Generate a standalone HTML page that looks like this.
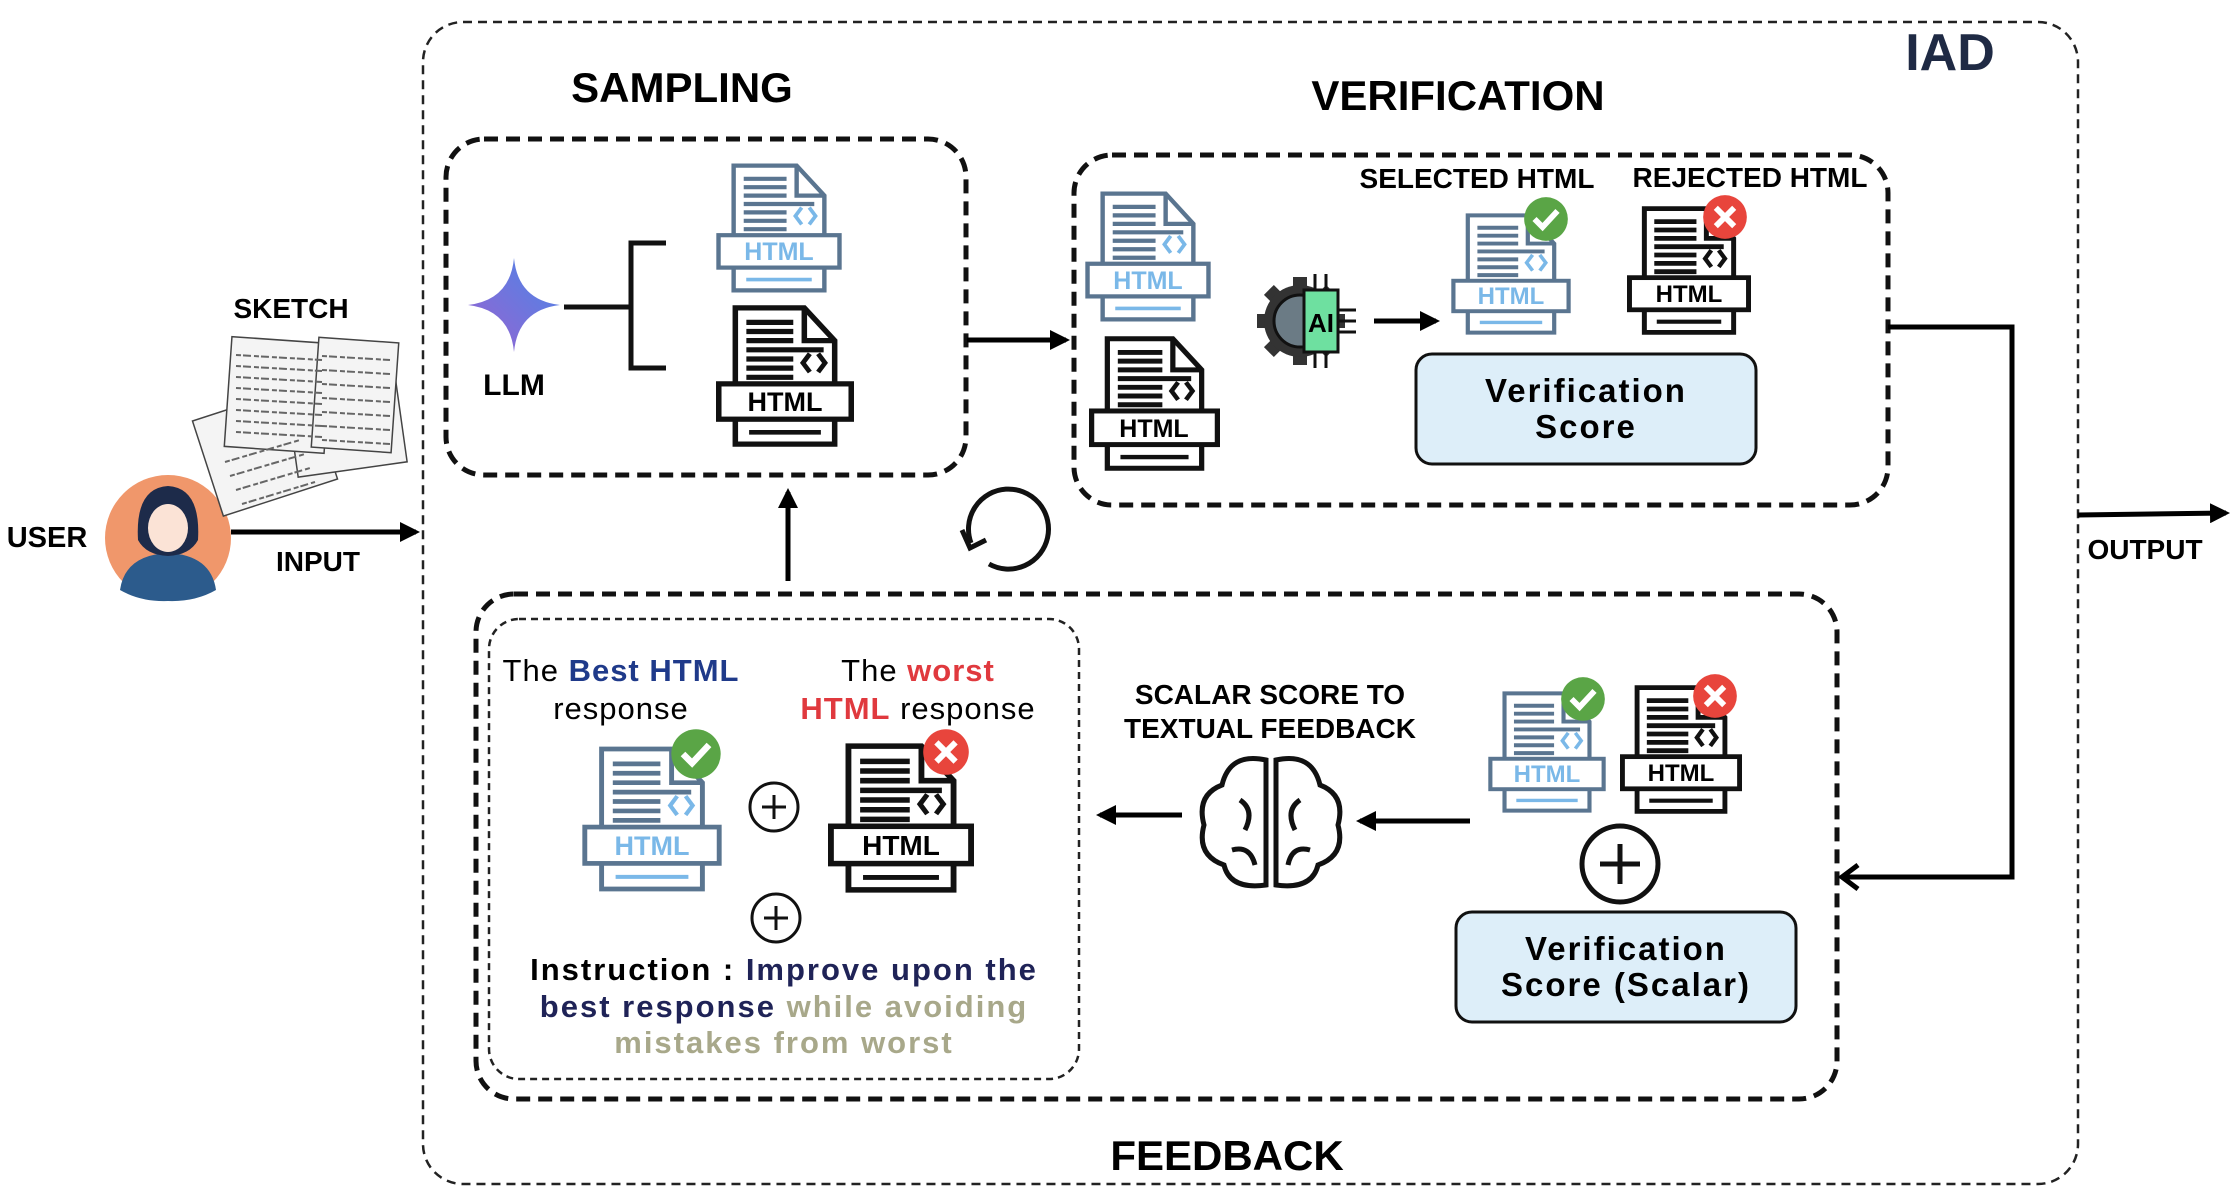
<!DOCTYPE html>
<html><head><meta charset="utf-8"><style>
html,body{margin:0;padding:0;background:#fff;}
svg{display:block;font-family:"Liberation Sans",sans-serif;}
</style></head><body>
<svg width="2238" height="1202" viewBox="0 0 2238 1202" xmlns="http://www.w3.org/2000/svg">
<defs>
<symbol id="docB" viewBox="0 0 100 110" preserveAspectRatio="none">
 <path d="M14 3H64L86 28V107H14Z" fill="#fff" stroke="#5a7590" stroke-width="3.5"/>
 <path d="M64 3V28H86" fill="none" stroke="#5a7590" stroke-width="3.5"/>
 <g stroke="#5a7590" stroke-width="3.5"><line x1="22" y1="14" x2="56" y2="14"/><line x1="22" y1="21" x2="56" y2="21"/><line x1="22" y1="28" x2="56" y2="28"/><line x1="22" y1="35" x2="78" y2="35"/><line x1="22" y1="42" x2="56" y2="42"/><line x1="22" y1="49" x2="56" y2="49"/><line x1="22" y1="56" x2="56" y2="56"/></g>
 <path d="M68 38L63 45L68 52M74 38L79 45L74 52" fill="none" stroke="#7ab8e8" stroke-width="3"/>
 <rect x="2" y="61" width="96" height="27" fill="#fff" stroke="#5a7590" stroke-width="3.5"/>
 <line x1="24" y1="98" x2="76" y2="98" stroke="#7ab8e8" stroke-width="3"/>
</symbol>
<symbol id="docK" viewBox="0 0 100 110" preserveAspectRatio="none">
 <path d="M14 3H64L86 28V107H14Z" fill="#fff" stroke="#111" stroke-width="4"/>
 <path d="M64 3V28H86" fill="none" stroke="#111" stroke-width="4"/>
 <g stroke="#111" stroke-width="4"><line x1="22" y1="14" x2="56" y2="14"/><line x1="22" y1="21" x2="56" y2="21"/><line x1="22" y1="28" x2="56" y2="28"/><line x1="22" y1="35" x2="78" y2="35"/><line x1="22" y1="42" x2="56" y2="42"/><line x1="22" y1="49" x2="56" y2="49"/><line x1="22" y1="56" x2="56" y2="56"/></g>
 <path d="M68 38L63 45L68 52M74 38L79 45L74 52" fill="none" stroke="#111" stroke-width="3.5"/>
 <rect x="2" y="61" width="96" height="27" fill="#fff" stroke="#111" stroke-width="4"/>
 <line x1="24" y1="98" x2="76" y2="98" stroke="#111" stroke-width="3.5"/>
</symbol>
<symbol id="ok" viewBox="0 0 40 40"><circle cx="20" cy="20" r="19" fill="#5aa546"/><path d="M10 20L17 27L30 13" fill="none" stroke="#fff" stroke-width="5"/></symbol>
<symbol id="no" viewBox="0 0 40 40"><circle cx="20" cy="20" r="19" fill="#e8453c"/><path d="M12 12L28 28M28 12L12 28" fill="none" stroke="#fff" stroke-width="5"/></symbol>
<marker id="ar" viewBox="0 0 10 10" refX="8" refY="5" markerWidth="4" markerHeight="4" orient="auto"><path d="M0 0L10 5L0 10Z" fill="#000"/></marker>
<linearGradient id="star" x1="0" y1="1" x2="1" y2="0"><stop offset="0" stop-color="#9a62d0"/><stop offset="1" stop-color="#4a86e8"/></linearGradient>
</defs>

<rect x="423" y="22" width="1655" height="1162" rx="40" fill="none" stroke="#222" stroke-width="2.5" stroke-dasharray="9 6"/>
<text x="1950" y="70" font-size="52" font-weight="bold" fill="#1f2a44" text-anchor="middle">IAD</text>
<text x="682" y="102" font-size="42" font-weight="bold" text-anchor="middle">SAMPLING</text>
<text x="1458" y="110" font-size="42" font-weight="bold" text-anchor="middle">VERIFICATION</text>
<text x="1227" y="1170" font-size="42" font-weight="bold" text-anchor="middle">FEEDBACK</text>

<rect x="446" y="139" width="520" height="336" rx="38" fill="none" stroke="#111" stroke-width="5" stroke-dasharray="14 8"/>
<rect x="1074" y="155" width="814" height="350" rx="38" fill="none" stroke="#111" stroke-width="5" stroke-dasharray="14 8"/>
<rect x="476" y="594" width="1361" height="505" rx="38" fill="none" stroke="#111" stroke-width="5" stroke-dasharray="14 8"/>
<rect x="489" y="619" width="590" height="460" rx="30" fill="none" stroke="#222" stroke-width="2.5" stroke-dasharray="7 5"/>

<!-- user -->
<text x="47" y="547" font-size="29" font-weight="bold" text-anchor="middle">USER</text>
<circle cx="168" cy="538" r="63" fill="#f0976b"/>
<path d="M120 590Q125 555 168 553Q211 555 216 590Q195 602 168 601Q141 602 120 590Z" fill="#2c5b8c"/>
<path d="M138 540Q135 488 168 486Q201 488 198 540Q190 555 168 556Q146 555 138 540Z" fill="#1d2b4a"/>
<ellipse cx="168" cy="528" rx="20" ry="24" fill="#fbe3d6"/>
<line x1="231" y1="532" x2="416" y2="532" stroke="#000" stroke-width="5" marker-end="url(#ar)"/>
<text x="318" y="571" font-size="28" font-weight="bold" text-anchor="middle">INPUT</text>
<text x="291" y="318" font-size="28" font-weight="bold" text-anchor="middle">SKETCH</text>
<g stroke="#444" stroke-width="1.5" fill="#f4f4f4">
<rect x="205" y="400" width="120" height="100" transform="rotate(-18 265 450)"/>
<rect x="290" y="360" width="110" height="110" transform="rotate(-8 345 415)"/>
<rect x="228" y="340" width="100" height="110" transform="rotate(4 278 395)"/>
<rect x="315" y="340" width="80" height="110" transform="rotate(4 355 395)"/>
</g>
<g stroke="#666" stroke-width="2" stroke-dasharray="5 2 8 3">
<line x1="236" y1="355" x2="322" y2="360"/><line x1="236" y1="366" x2="322" y2="371"/><line x1="236" y1="377" x2="322" y2="382"/><line x1="236" y1="388" x2="322" y2="393"/><line x1="236" y1="399" x2="322" y2="404"/><line x1="236" y1="410" x2="322" y2="415"/><line x1="236" y1="421" x2="322" y2="426"/><line x1="236" y1="432" x2="322" y2="437"/>
<line x1="322" y1="356" x2="390" y2="360"/><line x1="322" y1="370" x2="390" y2="374"/><line x1="322" y1="384" x2="390" y2="388"/><line x1="322" y1="398" x2="390" y2="402"/><line x1="322" y1="412" x2="390" y2="416"/><line x1="322" y1="426" x2="390" y2="430"/><line x1="322" y1="440" x2="390" y2="444"/>
<line x1="225" y1="462" x2="300" y2="440"/><line x1="230" y1="476" x2="305" y2="454"/><line x1="236" y1="490" x2="310" y2="468"/><line x1="242" y1="504" x2="315" y2="482"/></g>

<!-- sampling -->
<path d="M514 258Q518 300 560 305Q518 310 514 352Q510 310 468 305Q510 300 514 258Z" fill="url(#star)"/>
<text x="514" y="395" font-size="30" font-weight="bold" text-anchor="middle">LLM</text>
<line x1="564" y1="307" x2="631" y2="307" stroke="#111" stroke-width="5"/>
<path d="M666 243H631V368H666" fill="none" stroke="#111" stroke-width="5"/>
<use href="#docB" x="716" y="162" width="126" height="132"/>
<text x="779" y="260" font-size="25" font-weight="bold" fill="#7ab8e8" text-anchor="middle">HTML</text>
<use href="#docK" x="716" y="304" width="138" height="144"/>
<text x="785" y="411" font-size="27" font-weight="bold" text-anchor="middle">HTML</text>
<line x1="967" y1="340" x2="1066" y2="340" stroke="#000" stroke-width="5" marker-end="url(#ar)"/>
<line x1="788" y1="581" x2="788" y2="492" stroke="#000" stroke-width="5" marker-end="url(#ar)"/>
<path d="M971 543A40 40 0 1 1 989 564" fill="none" stroke="#111" stroke-width="5"/>
<path d="M962 530L970 548L986 540" fill="none" stroke="#111" stroke-width="5"/>

<!-- verification -->
<use href="#docB" x="1085" y="190" width="126" height="133"/>
<text x="1148" y="289" font-size="25" font-weight="bold" fill="#7ab8e8" text-anchor="middle">HTML</text>
<use href="#docK" x="1089" y="335" width="131" height="137"/>
<text x="1154" y="437" font-size="25" font-weight="bold" text-anchor="middle">HTML</text>
<g fill="#333"><rect x="1293" y="277" width="14" height="88"/><rect x="1257" y="314" width="88" height="14"/><rect x="1293" y="277" width="14" height="88" transform="rotate(45 1300 321)"/><rect x="1293" y="277" width="14" height="88" transform="rotate(-45 1300 321)"/></g>
<circle cx="1300" cy="321" r="36" fill="#333"/>
<circle cx="1300" cy="321" r="26" fill="#6b7b85" stroke="#111" stroke-width="3"/>
<rect x="1304" y="290" width="34" height="62" fill="#6ee0a0" stroke="#111" stroke-width="3"/>
<text x="1321" y="332" font-size="26" font-weight="bold" text-anchor="middle">AI</text>
<g stroke="#111" stroke-width="3"><line x1="1338" y1="310" x2="1356" y2="310"/><line x1="1338" y1="321" x2="1356" y2="321"/><line x1="1338" y1="332" x2="1356" y2="332"/><line x1="1315" y1="290" x2="1315" y2="274"/><line x1="1326" y1="290" x2="1326" y2="274"/><line x1="1315" y1="352" x2="1315" y2="368"/><line x1="1326" y1="352" x2="1326" y2="368"/></g>
<line x1="1374" y1="321" x2="1436" y2="321" stroke="#000" stroke-width="5" marker-end="url(#ar)"/>
<text x="1477" y="188" font-size="28" font-weight="bold" text-anchor="middle">SELECTED HTML</text>
<text x="1750" y="187" font-size="28" font-weight="bold" text-anchor="middle">REJECTED HTML</text>
<use href="#docB" x="1451" y="212" width="120" height="124"/>
<text x="1511" y="304" font-size="24" font-weight="bold" fill="#7ab8e8" text-anchor="middle">HTML</text>
<use href="#ok" x="1523" y="196" width="46" height="46"/>
<use href="#docK" x="1627" y="205" width="124" height="131"/>
<text x="1689" y="302" font-size="24" font-weight="bold" text-anchor="middle">HTML</text>
<use href="#no" x="1702" y="194" width="46" height="46"/>
<rect x="1416" y="354" width="340" height="110" rx="16" fill="#ddeef9" stroke="#111" stroke-width="3"/>
<text x="1586" y="402" font-size="33" font-weight="bold" text-anchor="middle" letter-spacing="2">Verification</text>
<text x="1586" y="438" font-size="33" font-weight="bold" text-anchor="middle" letter-spacing="2">Score</text>

<path d="M1888 327H2012V877H1845" fill="none" stroke="#000" stroke-width="5"/>
<path d="M1858 865L1842 877L1858 889" fill="none" stroke="#000" stroke-width="5"/>
<line x1="2078" y1="515" x2="2226" y2="513" stroke="#000" stroke-width="5" marker-end="url(#ar)"/>
<text x="2145" y="559" font-size="28" font-weight="bold" text-anchor="middle">OUTPUT</text>

<!-- feedback -->
<text x="1270" y="704" font-size="28" font-weight="bold" text-anchor="middle">SCALAR SCORE TO</text>
<text x="1270" y="738" font-size="28" font-weight="bold" text-anchor="middle">TEXTUAL FEEDBACK</text>
<g fill="none" stroke="#111" stroke-width="5">
<path d="M1266 760Q1230 752 1222 785Q1196 795 1204 825Q1196 855 1224 865Q1230 890 1266 885Z"/>
<path d="M1276 760Q1312 752 1320 785Q1346 795 1338 825Q1346 855 1318 865Q1312 890 1276 885Z"/>
<path d="M1240 800Q1255 810 1245 830M1300 800Q1285 810 1295 830M1232 850Q1250 845 1255 865M1310 850Q1292 845 1288 865"/>
</g>
<line x1="1470" y1="821" x2="1360" y2="821" stroke="#000" stroke-width="5" marker-end="url(#ar)"/>
<line x1="1182" y1="815" x2="1100" y2="815" stroke="#000" stroke-width="5" marker-end="url(#ar)"/>
<use href="#docB" x="1488" y="690" width="118" height="124"/>
<text x="1547" y="782" font-size="24" font-weight="bold" fill="#7ab8e8" text-anchor="middle">HTML</text>
<use href="#ok" x="1560" y="676" width="46" height="46"/>
<use href="#docK" x="1620" y="684" width="122" height="131"/>
<text x="1681" y="781" font-size="24" font-weight="bold" text-anchor="middle">HTML</text>
<use href="#no" x="1692" y="673" width="46" height="46"/>
<circle cx="1620" cy="864" r="38" fill="#fff" stroke="#111" stroke-width="5"/>
<path d="M1600 864H1640M1620 844V884" stroke="#111" stroke-width="5"/>
<rect x="1456" y="912" width="340" height="110" rx="16" fill="#ddeef9" stroke="#111" stroke-width="3"/>
<text x="1626" y="960" font-size="33" font-weight="bold" text-anchor="middle" letter-spacing="2">Verification</text>
<text x="1626" y="996" font-size="33" font-weight="bold" text-anchor="middle" letter-spacing="2">Score (Scalar)</text>

<!-- inner -->
<text x="621" y="681" font-size="31" text-anchor="middle" letter-spacing="1">The <tspan font-weight="bold" fill="#1f3a8a">Best HTML</tspan></text>
<text x="621" y="719" font-size="31" text-anchor="middle" letter-spacing="1">response</text>
<text x="918" y="681" font-size="31" text-anchor="middle" letter-spacing="1">The <tspan font-weight="bold" fill="#e0393e">worst</tspan></text>
<text x="918" y="719" font-size="31" text-anchor="middle" letter-spacing="1"><tspan font-weight="bold" fill="#e0393e">HTML</tspan> response</text>
<use href="#docB" x="582" y="745" width="140" height="148"/>
<text x="652" y="855" font-size="27" font-weight="bold" fill="#7ab8e8" text-anchor="middle">HTML</text>
<use href="#ok" x="670" y="728" width="52" height="52"/>
<use href="#docK" x="828" y="742" width="146" height="152"/>
<text x="901" y="855" font-size="28" font-weight="bold" text-anchor="middle">HTML</text>
<use href="#no" x="922" y="728" width="48" height="48"/>
<circle cx="774" cy="807" r="24" fill="#fff" stroke="#111" stroke-width="3"/>
<path d="M762 807H786M774 795V819" stroke="#111" stroke-width="3"/>
<circle cx="776" cy="918" r="24" fill="#fff" stroke="#111" stroke-width="3"/>
<path d="M764 918H788M776 906V930" stroke="#111" stroke-width="3"/>
<text x="784" y="980" font-size="31" font-weight="bold" text-anchor="middle" letter-spacing="2">Instruction : <tspan fill="#1f2357">Improve upon the</tspan></text>
<text x="784" y="1017" font-size="31" font-weight="bold" text-anchor="middle" letter-spacing="2"><tspan fill="#1f2357">best response</tspan> <tspan fill="#a8a88a">while avoiding</tspan></text>
<text x="784" y="1053" font-size="31" font-weight="bold" text-anchor="middle" letter-spacing="2" fill="#a8a88a">mistakes from worst</text>
</svg>
</body></html>
